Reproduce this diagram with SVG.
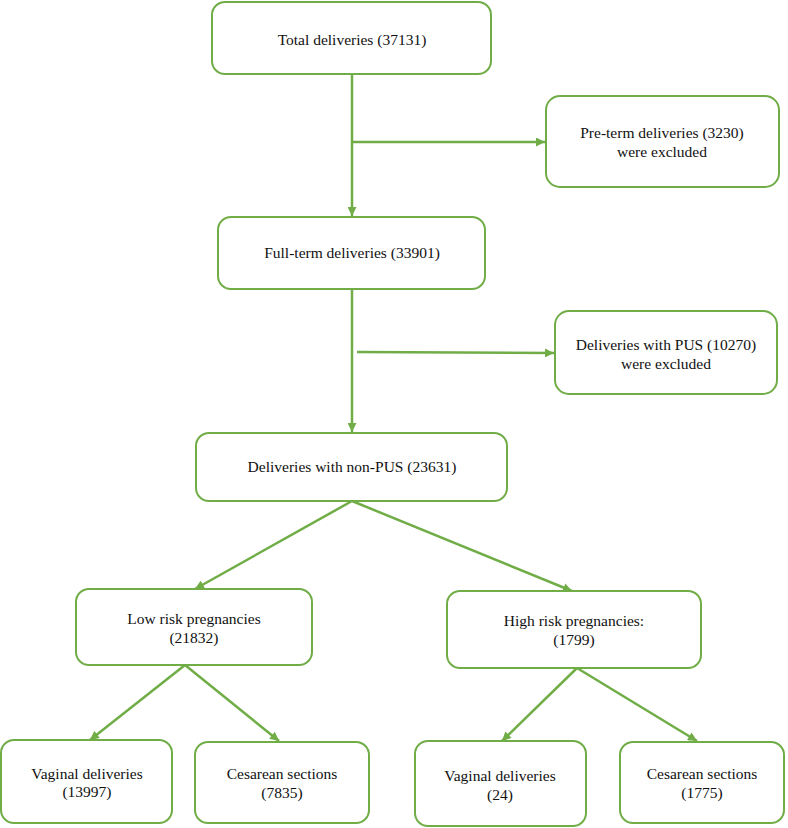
<svg xmlns="http://www.w3.org/2000/svg" width="788" height="828" viewBox="0 0 788 828">
<style>
.box{fill:#fff;stroke:#70AD47;stroke-width:2}
.lbl{font-family:"Liberation Serif","Times New Roman",serif;font-size:15.5px;fill:#111;text-anchor:middle}
.con{fill:none;stroke:#70AD47;stroke-width:2.5;marker-end:url(#arr)}
.con2{fill:none;stroke:#70AD47;stroke-width:2.5}
</style>
<defs>
<marker id="arr" viewBox="0 0 10 10" refX="10" refY="5" markerWidth="10" markerHeight="9" markerUnits="userSpaceOnUse" orient="auto">
<path d="M0,0 L10,5 L0,10 z" fill="#70AD47"/>
</marker>
</defs>
<rect width="788" height="828" fill="#fff"/>
<g id="connectors">
<path class="con" d="M352,75 L352,216"/>
<path class="con" d="M352,142 L545,142"/>
<path class="con" d="M352,289 L352,432"/>
<path class="con" d="M357,352 L554,353"/>
<path class="con" d="M352,501 L195,589"/>
<path class="con" d="M352,501 L572,591"/>
<path class="con" d="M185,665 L90,740"/>
<path class="con" d="M185,665 L279,741"/>
<path class="con" d="M577,668 L502,741"/>
<path class="con" d="M577,668 L697,741"/>
</g>
<g id="total"><rect class="box" x="212" y="2" width="279" height="72" rx="13"/><text class="lbl" x="352" y="45">Total deliveries (37131)</text></g>
<g id="preterm"><rect class="box" x="546" y="96" width="233" height="91" rx="14"/><text class="lbl" x="662" y="138">Pre-term deliveries (3230)</text><text class="lbl" x="662" y="157">were excluded</text></g>
<g id="fullterm"><rect class="box" x="218" y="217" width="267" height="72" rx="13"/><text class="lbl" x="352" y="258">Full-term deliveries (33901)</text></g>
<g id="pus"><rect class="box" x="555" y="311" width="222" height="83" rx="14"/><text class="lbl" x="666" y="350">Deliveries with PUS (10270)</text><text class="lbl" x="666" y="369">were excluded</text></g>
<g id="nonpus"><rect class="box" x="196" y="433" width="311" height="68" rx="13"/><text class="lbl" x="352" y="472">Deliveries with non-PUS (23631)</text></g>
<g id="low"><rect class="box" x="76" y="589" width="236" height="76" rx="13"/><text class="lbl" x="194" y="624">Low risk pregnancies</text><text class="lbl" x="194" y="643">(21832)</text></g>
<g id="high"><rect class="box" x="447" y="591" width="254" height="77" rx="13"/><text class="lbl" x="574" y="626">High risk pregnancies:</text><text class="lbl" x="574" y="645">(1799)</text></g>
<g id="vaginal1"><rect class="box" x="1" y="740" width="171" height="83" rx="13"/><text class="lbl" x="87" y="779">Vaginal deliveries</text><text class="lbl" x="87" y="797">(13997)</text></g>
<g id="cesarean1"><rect class="box" x="195" y="742" width="174" height="81" rx="13"/><text class="lbl" x="282" y="779">Cesarean sections</text><text class="lbl" x="282" y="798">(7835)</text></g>
<g id="vaginal2"><rect class="box" x="415" y="741" width="171" height="85" rx="13"/><text class="lbl" x="500" y="781">Vaginal deliveries</text><text class="lbl" x="500" y="800">(24)</text></g>
<g id="cesarean2"><rect class="box" x="620" y="742" width="164" height="81" rx="13"/><text class="lbl" x="702" y="779">Cesarean sections</text><text class="lbl" x="702" y="798">(1775)</text></g>
</svg>
